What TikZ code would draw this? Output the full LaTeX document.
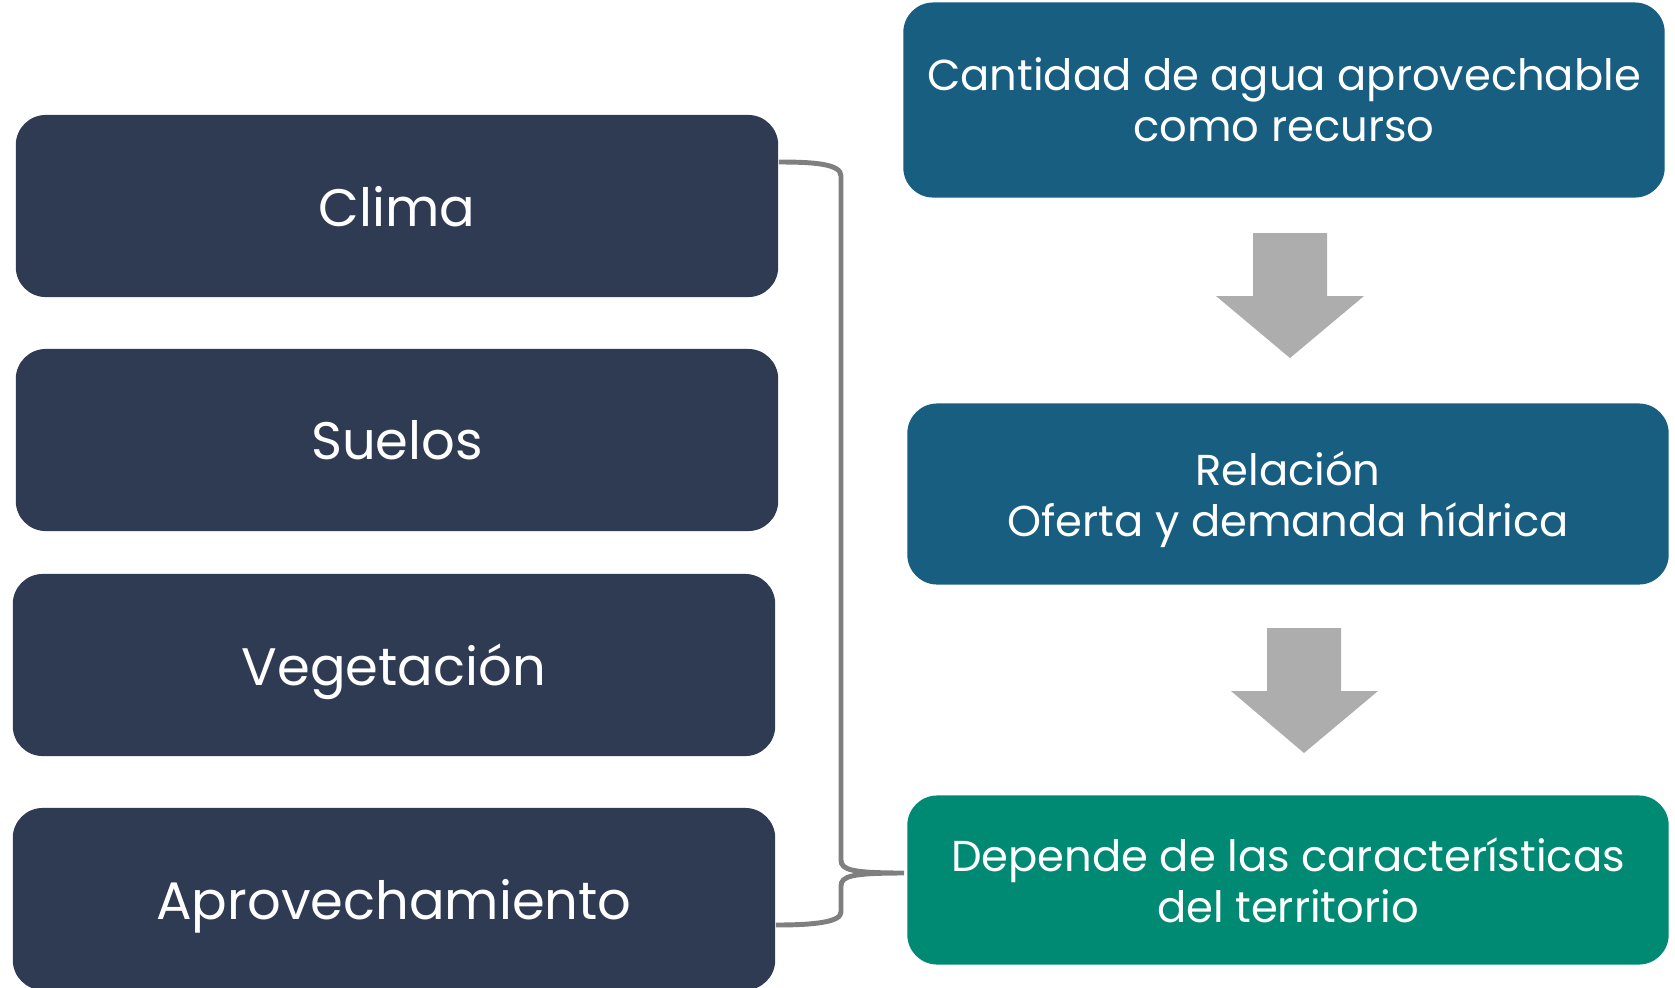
\documentclass[tikz,border=0pt]{standalone}
\usepackage{fontspec}
\setmainfont{Poppins}
\usepackage{tikz}
\usetikzlibrary{arrows}
\definecolor{navy}{HTML}{2E3B52}
\definecolor{petrol}{HTML}{175E80}
\definecolor{teal2}{HTML}{008A73}
\definecolor{arrgray}{HTML}{ADADAD}
\definecolor{brgray}{HTML}{7F7F7F}
\tikzset{
  box/.style = {rectangle, rounded corners=0.3cm, text=white, align=center,
    inner sep=0pt, text depth=0pt, font=\fontsize{15}{18}\selectfont},
  box_n/.style = {box, fill=navy, minimum width=7.62cm, minimum height=1.82cm},% caja izquierda
  box_b/.style = {box, fill=petrol, minimum width=7.61cm, minimum height=1.81cm,
    font=\fontsize{12.3}{14.5}\selectfont},% caja azul
  box_v/.style = {box_b, fill=teal2},% caja verde
  flecha/.style = {fill=arrgray}
}

\begin{document}
\begin{tikzpicture}[x=0.01cm,y=-0.01cm]
    \useasboundingbox (0,0) rectangle (1675,987);
    % columna izquierda
    \node [box_n] (clima) at (397,206) {Clima};
    \node [box_n] (suelos) at (397,440) {Suelos};
    \node [box_n] (veg) at (394,665) {Vegetación};
    \node [box_n] (aprov) at (394,899) {Aprovechamiento};
    % columna derecha
    \node [box_b, minimum height=1.95cm] (cant) at (1284,100) {Cantidad de agua aprovechable\\como recurso};
    \node [box_b] (rel) at (1288,494) {Relación\\Oferta y demanda hídrica};
    \node [box_v, minimum height=1.69cm] (dep) at (1288,880) {Depende de las características\\del territorio};
    % flechas
    \fill [flecha] (1253,233) -- (1327,233) -- (1327,296) -- (1364,296) -- (1290,358)
        -- (1216,296) -- (1253,296) -- cycle;
    \fill [flecha] (1267,628) -- (1341,628) -- (1341,691) -- (1378,691) -- (1304,753)
        -- (1231,691) -- (1267,691) -- cycle;
    % llave
    \coordinate (c1) at (clima.east |- 0,162);
    \coordinate (c2) at (aprov.east |- 0,925);
    \coordinate (tip) at (904,873);
    \draw [brgray, line width=1.4pt] (c1) .. controls (815,162) and (841,164) .. (841,176)
        -- (841,860) .. controls (841,870) and (852,873) .. (tip)
        (tip) .. controls (852,873) and (841,876) .. (841,886)
        -- (841,912) .. controls (841,922) and (815,925) .. (c2);
\end{tikzpicture}
\end{document}
